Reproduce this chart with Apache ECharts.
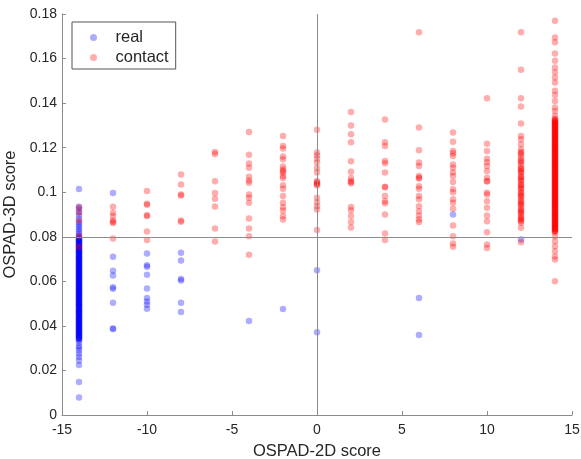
<!DOCTYPE html>
<html>
<head>
<meta charset="utf-8">
<script src="https://cdn.jsdelivr.net/npm/echarts@6/dist/echarts.min.js"></script>
<style>
  html, body { margin: 0; padding: 0; background: #fff; }
  #main { width: 581px; height: 459px; }
</style>
</head>
<body>
<div id="main"></div>
<script>
// OSPAD-2D score columns
var xPositions = [-14, -12, -10, -8, -6, -4, -2, 0, 2, 4, 6, 8, 10, 12, 14];

// "real" OSPAD-3D scores, one list per column
var realScores = [
  [0.1015, 0.0935, 0.0925, 0.091, 0.0895, 0.088, 0.0865, 0.0855, 0.0845, 0.0835, 0.0825, 0.0815, 0.0805,
   0.0798, 0.0792, 0.0787, 0.0782, 0.0776, 0.0771, 0.0765, 0.076, 0.0755, 0.075, 0.0744, 0.0739, 0.0734,
   0.0729, 0.0724, 0.0718, 0.0713, 0.0708, 0.0703, 0.0698, 0.0693, 0.0687, 0.0682, 0.0677, 0.0672, 0.0667,
   0.0661, 0.0656, 0.0651, 0.0646, 0.0641, 0.0636, 0.063, 0.0625, 0.062, 0.0615, 0.061, 0.0605, 0.06,
   0.0594, 0.0589, 0.0584, 0.0579, 0.0574, 0.0568, 0.0563, 0.0558, 0.0553, 0.0548, 0.0543, 0.0537, 0.0532,
   0.0527, 0.0522, 0.0517, 0.0512, 0.0506, 0.0501, 0.0496, 0.0491, 0.0486, 0.048, 0.0475, 0.047, 0.0465,
   0.046, 0.0455, 0.045, 0.0444, 0.0439, 0.0434, 0.0429, 0.0424, 0.0418, 0.0413, 0.0408, 0.0403, 0.0398,
   0.0393, 0.0387, 0.0382, 0.0377, 0.0372, 0.0367, 0.0362, 0.0356, 0.0351, 0.0346, 0.0341,
   0.0335, 0.0325, 0.031, 0.0302, 0.029, 0.0275, 0.026, 0.0245, 0.0225, 0.0148, 0.0078],
  [0.0996, 0.071, 0.0648, 0.0626, 0.0573, 0.0567, 0.0504, 0.0388, 0.0386],
  [0.0725, 0.0672, 0.0665, 0.0629, 0.0568, 0.0525, 0.051, 0.0495, 0.0477],
  [0.0728, 0.0694, 0.061, 0.0604, 0.0504, 0.0462],
  [],
  [0.0422],
  [0.0476],
  [0.065, 0.0372],
  [],
  [],
  [0.0525, 0.0359],
  [0.09],
  [],
  [0.0788],
  []
];

// further "real" samples packed in the x = -14 column
var realMoreAtM14 = [
  0.079, 0.0783, 0.0776, 0.0769, 0.0762, 0.0755, 0.0748, 0.0741, 0.0734, 0.0727, 0.072, 0.0713, 0.0706,
  0.0699, 0.0692, 0.0685, 0.0678, 0.0671, 0.0664, 0.0657, 0.065, 0.0643, 0.0636, 0.0629, 0.0622, 0.0615,
  0.0608, 0.0601, 0.0594, 0.0587, 0.058, 0.0573, 0.0566, 0.0559, 0.0552, 0.0545, 0.0538, 0.0531, 0.0524,
  0.0517, 0.051, 0.0503, 0.0496, 0.0489, 0.0482, 0.0475, 0.0468, 0.0461, 0.0454, 0.0447, 0.044, 0.0433,
  0.0426, 0.0419, 0.0412, 0.0405, 0.0398, 0.0391, 0.0384, 0.0377, 0.037, 0.0363, 0.0356, 0.0349, 0.0342
];

// "contact" OSPAD-3D scores, one list per column
var contactScores = [
  [0.0932, 0.0908, 0.0872, 0.0803, 0.0755],
  [0.0935, 0.0908, 0.0893, 0.0873, 0.0866, 0.0862, 0.0792],
  [0.1005, 0.0948, 0.0944, 0.0897, 0.0893, 0.0824, 0.0785],
  [0.108, 0.1035, 0.099, 0.0985, 0.0873, 0.0868],
  [0.118, 0.1172, 0.1049, 0.0996, 0.0971, 0.0936, 0.0837, 0.0779],
  [0.127, 0.1168, 0.1129, 0.111, 0.107, 0.1053, 0.1043, 0.099, 0.0975, 0.0953, 0.0882, 0.0837, 0.0802, 0.0719],
  [0.1252, 0.1207, 0.1196, 0.116, 0.1148, 0.1115, 0.1102, 0.1095, 0.1088, 0.1073, 0.1064, 0.1031, 0.1016,
   0.0983, 0.0953, 0.0933, 0.0918, 0.0893, 0.0878],
  [0.128, 0.1178, 0.1166, 0.115, 0.1133, 0.1109, 0.1088, 0.105, 0.1045, 0.104, 0.1035, 0.1031, 0.0975,
   0.0955, 0.0937, 0.0923, 0.083],
  [0.136, 0.13, 0.126, 0.1224, 0.1139, 0.1092, 0.1064, 0.105, 0.1045, 0.104, 0.0934, 0.0919, 0.0893, 0.0866, 0.0842],
  [0.1326, 0.1224, 0.1207, 0.114, 0.113, 0.1088, 0.1025, 0.1022, 0.0983, 0.096, 0.095, 0.09, 0.0815, 0.0785],
  [0.1718, 0.129, 0.1188, 0.1133, 0.1118, 0.1073, 0.1065, 0.1062, 0.1027, 0.1016, 0.0983, 0.0968, 0.0937,
   0.0915, 0.0896, 0.0878, 0.0866],
  [0.1268, 0.1226, 0.1185, 0.1175, 0.1163, 0.1125, 0.111, 0.1088, 0.1073, 0.1046, 0.1013, 0.1, 0.0968,
   0.0953, 0.0926, 0.0851, 0.0802, 0.077, 0.0755],
  [0.1422, 0.1218, 0.1185, 0.115, 0.1135, 0.1118, 0.1095, 0.1065, 0.105, 0.1048, 0.0998, 0.099, 0.096,
   0.093, 0.0896, 0.087, 0.082, 0.0765, 0.075],
  [0.1718, 0.155, 0.1422, 0.1385, 0.1308, 0.1252, 0.1238, 0.1215, 0.1193, 0.118, 0.1168, 0.1155, 0.1145,
   0.1132, 0.112, 0.1108, 0.1105, 0.1096, 0.1085, 0.1072, 0.1068, 0.106, 0.1048, 0.1036, 0.1032, 0.1025,
   0.1012, 0.1, 0.0995, 0.0988, 0.0976, 0.0964, 0.0958, 0.0952, 0.094, 0.0928, 0.092, 0.0916, 0.0905,
   0.0893, 0.0885, 0.0882, 0.087, 0.0863, 0.084, 0.0775, 0.1175, 0.1138, 0.1092, 0.1055, 0.1018,
   0.0982, 0.0945, 0.091, 0.0875],
  [0.177, 0.1695, 0.1673, 0.1623, 0.159, 0.156, 0.1538, 0.1515, 0.1493, 0.1455, 0.1436, 0.141, 0.138,
   0.1365, 0.1343, 0.133, 0.1325, 0.132, 0.1315, 0.131, 0.1305, 0.13, 0.1295, 0.129, 0.1285, 0.128,
   0.1275, 0.127, 0.1265, 0.126, 0.1255, 0.125, 0.1245, 0.124, 0.1235, 0.123, 0.1225, 0.122, 0.1215,
   0.121, 0.1205, 0.12, 0.1195, 0.119, 0.1185, 0.118, 0.1175, 0.117, 0.1165, 0.116, 0.1155, 0.115,
   0.1145, 0.114, 0.1135, 0.113, 0.1125, 0.112, 0.1115, 0.111, 0.1105, 0.11, 0.1095, 0.109, 0.1085,
   0.108, 0.1075, 0.107, 0.1065, 0.106, 0.1055, 0.105, 0.1045, 0.104, 0.1035, 0.103, 0.1025, 0.102,
   0.1015, 0.101, 0.1005, 0.1, 0.0995, 0.099, 0.0985, 0.098, 0.0975, 0.097, 0.0965, 0.096, 0.0955,
   0.095, 0.0945, 0.094, 0.0935, 0.093, 0.0925, 0.092, 0.0915, 0.091, 0.0905, 0.09, 0.0895, 0.089,
   0.0885, 0.088, 0.0875, 0.087, 0.0865, 0.086, 0.0855, 0.085, 0.0845, 0.084, 0.0835, 0.083, 0.0825,
   0.082, 0.0802, 0.078, 0.0757, 0.0735, 0.0712, 0.0698, 0.06]
];

// further "contact" samples packed in the x = 14 column
var contactMoreAt14 = [
  0.1322, 0.1314, 0.1306, 0.1298, 0.129, 0.1282, 0.1274, 0.1266, 0.1258, 0.125, 0.1242, 0.1234, 0.1226,
  0.1218, 0.121, 0.1202, 0.1194, 0.1186, 0.1178, 0.117, 0.1162, 0.1154, 0.1146, 0.1138, 0.113, 0.1122,
  0.1114, 0.1106, 0.1098, 0.109, 0.1082, 0.1074, 0.1066, 0.1058, 0.105, 0.1042, 0.1034, 0.1026, 0.1018,
  0.101, 0.1002, 0.0994, 0.0986, 0.0978, 0.097, 0.0962, 0.0954, 0.0946, 0.0938, 0.093, 0.0922, 0.0914,
  0.0906, 0.0898, 0.089, 0.0882, 0.0874, 0.0866, 0.0858, 0.085, 0.0842, 0.0834, 0.0826
];

// reference lines
var refX = 0;
var refY = 0.079;

var xTicks = { min: -15, max: 15, interval: 5 };
var yTicks = { min: 0, max: 0.18, interval: 0.02 };

function toPoints(cols) {
  var out = [];
  xPositions.forEach(function (x, i) {
    cols[i].forEach(function (y) { out.push([x, y]); });
  });
  return out;
}

function extraPoints(x, ys) {
  return ys.map(function (y) { return [x, y]; });
}

var font = "'Liberation Sans', Arial, Helvetica, sans-serif";
var axisGray = '#8c8c8c';
var textDark = '#262626';

var chart = echarts.init(document.getElementById('main'), null, { renderer: 'canvas' });

var option = {
  animation: false,
  backgroundColor: '#fff',
  textStyle: { fontFamily: font },
  grid: { left: 62, right: 9, top: 14, bottom: 44, containLabel: false, outerBoundsMode: 'none' },
  legend: {
    orient: 'vertical',
    left: 72,
    top: 22,
    padding: [7, 7, 3, 18],
    itemGap: 3,
    itemWidth: 34,
    itemHeight: 7,
    borderColor: '#555',
    borderWidth: 1,
    backgroundColor: '#fff',
    textStyle: { fontSize: 16.5, color: textDark, fontFamily: font },
    data: ['real', 'contact']
  },
  xAxis: {
    type: 'value',
    min: xTicks.min,
    max: xTicks.max,
    interval: xTicks.interval,
    name: 'OSPAD-2D score',
    nameLocation: 'middle',
    nameGap: 28,
    nameTextStyle: { fontSize: 16.5, color: textDark, fontFamily: font },
    axisLine: { show: true, onZero: false, lineStyle: { color: axisGray, width: 1 } },
    axisTick: { show: true, inside: true, length: 4, lineStyle: { color: axisGray } },
    axisLabel: { fontSize: 14, color: textDark, margin: 8, fontFamily: font },
    splitLine: { show: false }
  },
  yAxis: {
    type: 'value',
    min: yTicks.min,
    max: yTicks.max,
    interval: yTicks.interval,
    name: 'OSPAD-3D score',
    nameLocation: 'middle',
    nameGap: 34,
    nameTextStyle: { fontSize: 16.5, color: textDark, fontFamily: font },
    axisLine: { show: true, onZero: false, lineStyle: { color: axisGray, width: 1 } },
    axisTick: { show: true, inside: true, length: 4, lineStyle: { color: axisGray } },
    axisLabel: { fontSize: 14, color: textDark, margin: 5, fontFamily: font },
    splitLine: { show: false }
  },
  series: [
    {
      name: 'real',
      type: 'scatter',
      symbolSize: 6.5,
      itemStyle: { color: 'rgb(0,0,255)', opacity: 0.32 },
      data: toPoints(realScores).concat(extraPoints(-14, realMoreAtM14)),
      markLine: {
        silent: true,
        symbol: 'none',
        label: { show: false },
        lineStyle: { color: '#8c8c8c', width: 1, type: 'solid', opacity: 1 },
        data: [{ xAxis: refX }, { yAxis: refY }]
      }
    },
    {
      name: 'contact',
      type: 'scatter',
      symbolSize: 6.5,
      itemStyle: { color: 'rgb(255,0,0)', opacity: 0.32 },
      data: toPoints(contactScores).concat(extraPoints(14, contactMoreAt14))
    }
  ]
};

chart.setOption(option);
</script>
</body>
</html>
